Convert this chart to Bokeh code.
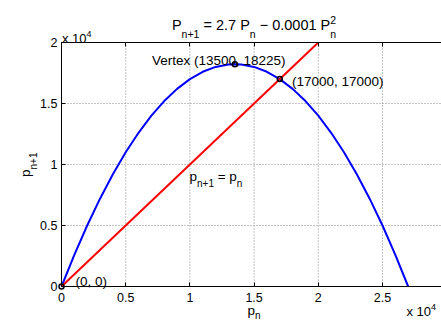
from bokeh.plotting import figure
from bokeh.models import Range1d, LinearAxis, FixedTicker, Label, CustomJSTickFormatter
from bokeh.embed import file_html
from bokeh.resources import INLINE

# ---------------- data ----------------
pn = [0, 1000, 2000, 3000, 4000, 5000, 6000, 7000, 8000, 9000, 10000, 11000, 12000,
      13000, 13500, 14000, 15000, 16000, 17000, 18000, 19000, 20000, 21000, 22000,
      23000, 24000, 25000, 26000, 27000]
pn1 = [0, 2600, 5000, 7200, 9200, 11000, 12600, 14000, 15200, 16200, 17000, 17600, 18000,
       18200, 18225, 18200, 18000, 17600, 17000, 16200, 15200, 14000, 12600, 11000,
       9200, 7200, 5000, 2600, 0]
diag_x = [0, 20000]
diag_y = [0, 20000]
pts_x = [0, 13500, 17000]
pts_y = [0, 18225, 17000]

x_limits = [0, 30000]
y_limits = [0, 20000]
x_ticks = [0, 5000, 10000, 15000, 20000, 25000]
x_tick_labels = ["0", "0.5", "1", "1.5", "2", "2.5"]
y_ticks = [0, 5000, 10000, 15000, 20000]
y_tick_labels = ["0", "0.5", "1", "1.5", "2"]

FONT = "Liberation Sans"

# ---------------- geometry (canvas pixels) ----------------
W, H = 441, 323
FL, FT, FB = 61, 42, 286          # where the axes box sits on the canvas
PX_X = 128.4 / 10000.0
PX_Y = (FB - FT) / 20000.0


def dx(px):
    return (px - FL) / PX_X


def dy(py):
    return (FB - py) / PX_Y


p = figure(width=W, height=H, output_backend="svg", toolbar_location=None,
           x_range=Range1d(dx(0), dx(W)), y_range=Range1d(dy(H), dy(0)),
           x_axis_location=None, y_axis_location=None,
           min_border_left=0, min_border_right=0, min_border_top=0, min_border_bottom=0)
p.title.visible = False
p.outline_line_color = None
p.background_fill_color = "white"
p.border_fill_color = "white"
p.grid.visible = False

# dotted grid inside the axes box
p.segment(x0=x_ticks, y0=[y_limits[0]] * len(x_ticks), x1=x_ticks,
          y1=[y_limits[1]] * len(x_ticks), line_color="#8a8a8a", line_dash="1 2", line_width=1)
p.segment(x0=[x_limits[0]] * len(y_ticks), y0=y_ticks, x1=[x_limits[1]] * len(y_ticks),
          y1=y_ticks, line_color="#8a8a8a", line_dash="1 2", line_width=1)

FMT = "const i = tv.indexOf(tick); return i >= 0 ? tl[i] : '';"


def make_axis(side, loc, tks, labs, bounds):
    ax = LinearAxis(fixed_location=loc, bounds=tuple(bounds))
    ax.ticker = FixedTicker(ticks=tks)
    ax.formatter = CustomJSTickFormatter(args=dict(tv=tks, tl=labs), code=FMT)
    ax.major_tick_in = 4
    ax.major_tick_out = 0
    ax.minor_tick_line_color = None
    ax.axis_line_color = "black"
    ax.axis_line_width = 1
    ax.major_tick_line_color = "black"
    ax.major_label_text_font = FONT
    ax.major_label_text_font_size = "12.5px"
    ax.major_label_text_color = "black"
    p.add_layout(ax, side)
    return ax


bottom = make_axis("below", y_limits[0], x_ticks, x_tick_labels, x_limits)
left = make_axis("left", x_limits[0], y_ticks, y_tick_labels, y_limits)
top = make_axis("above", y_limits[1], x_ticks, ["" for _ in x_ticks], x_limits)
bottom.major_label_standoff = 6
left.major_label_standoff = 4

p.line(pn, pn1, line_color="#0000ff", line_width=2)
p.line(diag_x, diag_y, line_color="#ff0000", line_width=2)
p.scatter(pts_x, pts_y, marker="circle", size=5, fill_color=None,
          line_color="black", line_width=1.5)

# ---------------- rich text helper ----------------
ADV = {' ': 278, '.': 278, ',': 278, '(': 333, ')': 333, '=': 584, '+': 584,
       '\u2212': 584, 'P': 667, 'p': 556, 'n': 556, 'V': 667, 'e': 556,
       'r': 333, 't': 278, 'x': 500}
for d in "0123456789":
    ADV[d] = 556


def tw(s, size):
    return sum(ADV.get(c, 556) for c in s) / 1000.0 * size


def rich_width(pieces):
    return sum(tw(t, s) for t, s, sh, adv in pieces if adv)


def rich(pieces, px, py, vertical=False):
    pos = 0.0
    for text, size, shift, adv in pieces:
        body = text.strip(" ")
        lead = tw(text[:len(text) - len(text.lstrip(" "))], size)
        if vertical:
            x, y, ang = px - shift, py - pos - lead, 1.5707963267948966
        else:
            x, y, ang = px + pos + lead, py - shift, 0
        p.add_layout(Label(x=dx(x), y=dy(y), text=body, angle=ang,
                           text_font=FONT, text_font_size=f"{size}px",
                           text_color="black", text_align="left",
                           text_baseline="alphabetic"))
        if adv:
            pos += tw(text, size)


title = [("P", 14.5, 0, True), ("n+1", 10.5, -9, True), (" = 2.7 P", 14.5, 0, True),
         ("n", 10.5, -9, True), (" \u2212 0.0001 P", 14.5, 0, True),
         ("2", 10.5, 5.5, False), ("n", 10.5, -9, True)]
rich(title, 253.5 - rich_width(title) / 2, 24.7)

rich([("Vertex (13500, 18225)", 13.5, 0, True)], 151.5, 60)
rich([("(17000, 17000)", 13.5, 0, True)], 291.5, 81)
rich([("(0, 0)", 13.5, 0, True)], 75, 280.5)
rich([("p", 13.5, 0, True), ("n+1", 10, -7, True), (" = p", 13.5, 0, True),
      ("n", 10, -7, True)], 189, 175.5)

rich([("x 10", 13, 0, True), ("4", 9, 5, True)], 61.5, 38.3)
rich([("x 10", 13, 0, True), ("4", 9, 5, True)], 406, 311)

xl = [("p", 13.5, 0, True), ("n", 10, -4.5, True)]
rich(xl, 253.5 - rich_width(xl) / 2, 310)
rich([("p", 13.5, 0, True), ("n+1", 10, -7.5, True)], 25, 176.5, vertical=True)

open("out.html", "w").write(file_html(p, INLINE))
